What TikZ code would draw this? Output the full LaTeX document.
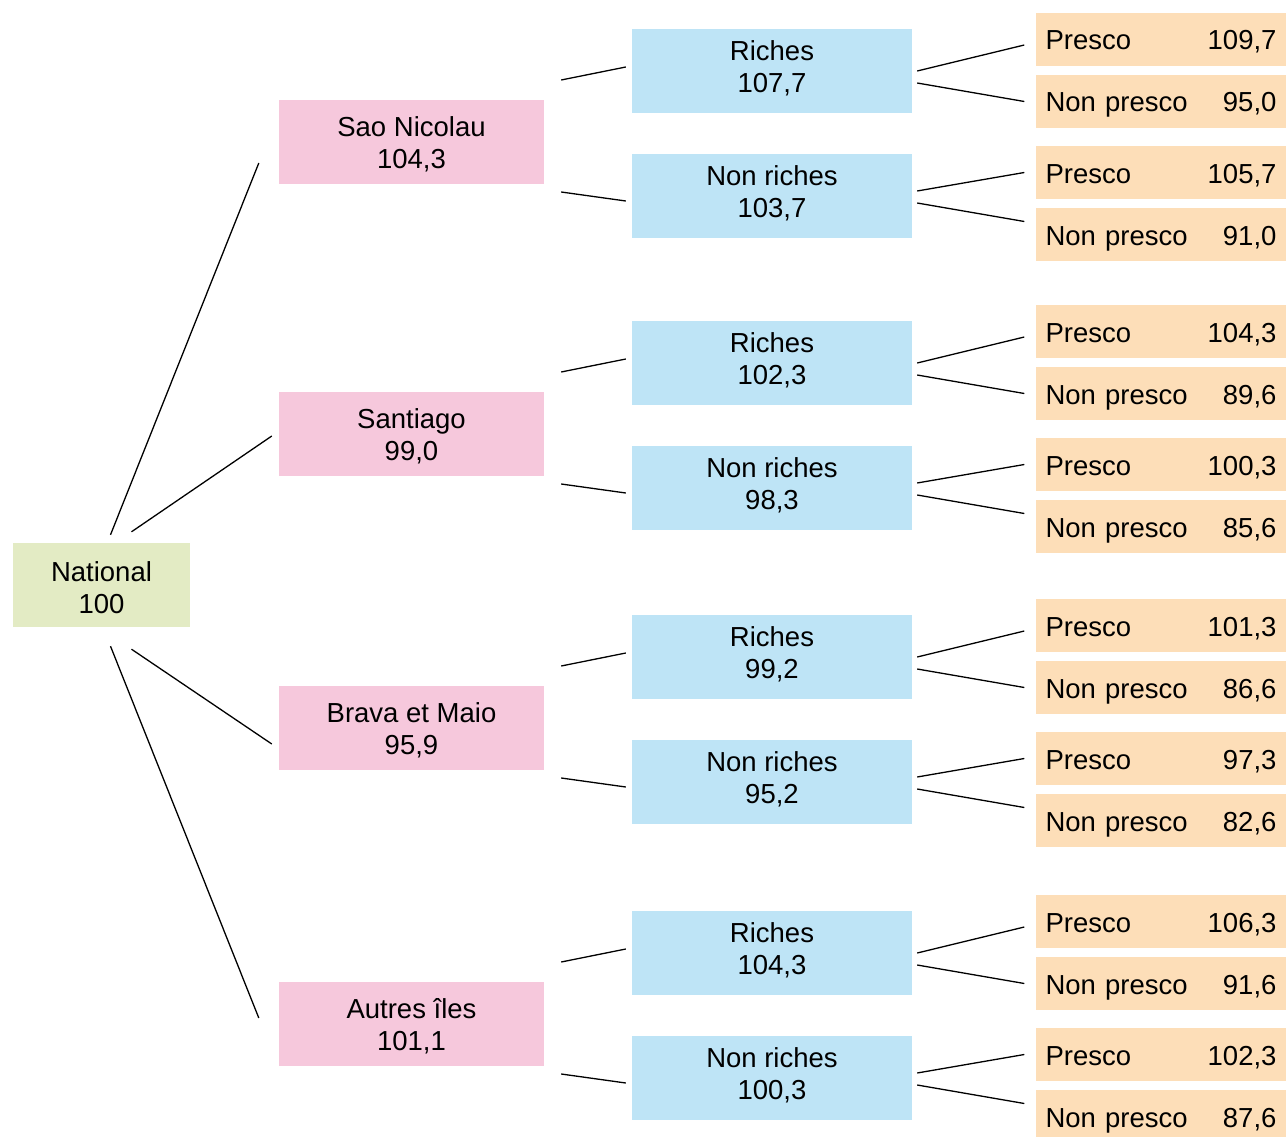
\documentclass[tikz,border=0pt]{standalone}
\usepackage{fontspec}
\setmainfont{Liberation Sans}
\usetikzlibrary{calc}
\definecolor{natgreen}{RGB}{227,235,196}
\definecolor{islpink}{RGB}{246,200,220}
\definecolor{richblue}{RGB}{190,228,246}
\definecolor{presorange}{RGB}{253,222,184}
\newcommand{\mytopstrut}{\rule{0pt}{25pt}}
\newcommand{\mybotstrut}{\rule[-9.2pt]{0pt}{9.2pt}}
\begin{document}
\begin{tikzpicture}[x=1pt,y=-1pt,
  box/.style={inner sep=0pt, minimum height=84pt, align=center, font=\fontsize{27.5}{32.5}\selectfont},
  natbox/.style={box, fill=natgreen, minimum width=177pt},
  islbox/.style={box, fill=islpink, minimum width=265pt},
  richbox/.style={box, fill=richblue, minimum width=280pt},
  presbox/.style={inner ysep=0pt, inner xsep=9.5pt, minimum width=250pt, minimum height=53pt,
    text width=231pt, text height=21pt, text depth=0pt, fill=presorange, align=left,
    font=\fontsize{27.5}{32.5}\selectfont},
  link/.style={line width=1.3pt}]
\clip (0,0) rectangle (1286,1137);
\fill[white] (0,0) rectangle (1286,1137);
\node[natbox] (nat) at (101.5,585) {\mytopstrut National\\100};
\foreach \k/\g/\isl/\iv/\rv/\nrv/\pa/\pb/\pc/\pd in {
  1/100/{Sao Nicolau}/{104,3}/{107,7}/{103,7}/{109,7}/{95,0}/{105,7}/{91,0},
  2/392/{Santiago}/{99,0}/{102,3}/{98,3}/{104,3}/{89,6}/{100,3}/{85,6},
  3/686/{Brava et Maio}/{95,9}/{99,2}/{95,2}/{101,3}/{86,6}/{97,3}/{82,6},
  4/982/{Autres îles}/{101,1}/{104,3}/{100,3}/{106,3}/{91,6}/{102,3}/{87,6}}
{
  \node[islbox] (isl\k) at (411.5,\g+42) {\mytopstrut\isl\\\iv};
  \node[richbox] (r\k) at (772,\g-29) {Riches\\\rv\mybotstrut};
  \node[richbox] (nr\k) at (772,\g+96) {Non riches\\\nrv\mybotstrut};
  \node[presbox] (pa\k) at (1161,\g-60.5) {Presco\hfill\pa};
  \node[presbox] (pb\k) at (1161,\g+1.5) {Non presco\hfill\pb};
  \node[presbox] (pc\k) at (1161,\g+72.5) {Presco\hfill\pc};
  \node[presbox] (pd\k) at (1161,\g+134.5) {Non presco\hfill\pd};
  \draw[link] ([shift={(17,-62)}]isl\k.east) -- ([shift={(-6,-4)}]r\k.west);
  \draw[link] ([shift={(17,50)}]isl\k.east) -- ([shift={(-6,5)}]nr\k.west);
  \draw[link] ([shift={(5,0)}]r\k.east) -- ([shift={(-11.5,5.5)}]pa\k.west);
  \draw[link] ([shift={(5,12)}]r\k.east) -- ([shift={(-11.5,0)}]pb\k.west);
  \draw[link] ([shift={(5,-5)}]nr\k.east) -- ([shift={(-11.5,0)}]pc\k.west);
  \draw[link] ([shift={(5,7)}]nr\k.east) -- ([shift={(-11.5,-13)}]pd\k.west);
}
\draw[link] ([shift={(9,-8)}]nat.north) -- ([shift={(-20,21)}]isl1.west);
\draw[link] ([shift={(30,-11)}]nat.north) -- ([shift={(-7,2)}]isl2.west);
\draw[link] ([shift={(30,22)}]nat.south) -- ([shift={(-7,16)}]isl3.west);
\draw[link] ([shift={(9,19)}]nat.south) -- ([shift={(-20,-6)}]isl4.west);
\end{tikzpicture}
\end{document}
